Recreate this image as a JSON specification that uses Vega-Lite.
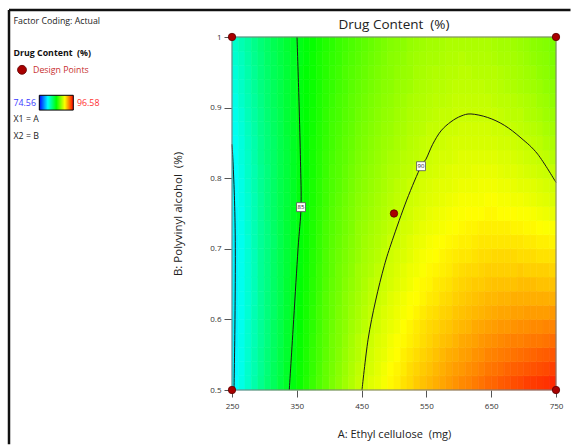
{
"$schema": "https://vega.github.io/schema/vega-lite/v6.json",
"background": "white",
"padding": {"left": 7, "top": 8, "right": 0, "bottom": 0},
"bounds": "flush",
"spacing": 73,
"config": {"font": "Open Sans", "view": {"stroke": null}},
"datasets": {
"grid": [
{"a":255,"b":0.51,"v":80.0},{"a":255,"b":0.53,"v":79.9},{"a":255,"b":0.55,"v":79.9},{"a":255,"b":0.57,"v":79.8},{"a":255,"b":0.59,"v":79.8},{"a":255,"b":0.61,"v":79.8},{"a":255,"b":0.63,"v":79.8},{"a":255,"b":0.65,"v":79.8},{"a":255,"b":0.67,"v":79.8},{"a":255,"b":0.69,"v":79.8},{"a":255,"b":0.71,"v":79.8},{"a":255,"b":0.73,"v":79.9},{"a":255,"b":0.75,"v":79.9},{"a":255,"b":0.77,"v":80.0},{"a":255,"b":0.79,"v":80.0},{"a":255,"b":0.81,"v":80.1},{"a":255,"b":0.83,"v":80.2},{"a":255,"b":0.85,"v":80.3},{"a":255,"b":0.87,"v":80.4},{"a":255,"b":0.89,"v":80.5},{"a":255,"b":0.91,"v":80.6},{"a":255,"b":0.93,"v":80.8},{"a":255,"b":0.95,"v":80.9},{"a":255,"b":0.97,"v":81.1},{"a":255,"b":0.99,"v":81.2},
{"a":265,"b":0.51,"v":80.6},{"a":265,"b":0.53,"v":80.5},{"a":265,"b":0.55,"v":80.5},{"a":265,"b":0.57,"v":80.5},{"a":265,"b":0.59,"v":80.4},{"a":265,"b":0.61,"v":80.4},{"a":265,"b":0.63,"v":80.4},{"a":265,"b":0.65,"v":80.4},{"a":265,"b":0.67,"v":80.4},{"a":265,"b":0.69,"v":80.4},{"a":265,"b":0.71,"v":80.4},{"a":265,"b":0.73,"v":80.5},{"a":265,"b":0.75,"v":80.5},{"a":265,"b":0.77,"v":80.6},{"a":265,"b":0.79,"v":80.6},{"a":265,"b":0.81,"v":80.7},{"a":265,"b":0.83,"v":80.8},{"a":265,"b":0.85,"v":80.8},{"a":265,"b":0.87,"v":80.9},{"a":265,"b":0.89,"v":81.0},{"a":265,"b":0.91,"v":81.2},{"a":265,"b":0.93,"v":81.3},{"a":265,"b":0.95,"v":81.4},{"a":265,"b":0.97,"v":81.5},{"a":265,"b":0.99,"v":81.7},
{"a":275,"b":0.51,"v":81.2},{"a":275,"b":0.53,"v":81.2},{"a":275,"b":0.55,"v":81.1},{"a":275,"b":0.57,"v":81.1},{"a":275,"b":0.59,"v":81.1},{"a":275,"b":0.61,"v":81.0},{"a":275,"b":0.63,"v":81.0},{"a":275,"b":0.65,"v":81.0},{"a":275,"b":0.67,"v":81.0},{"a":275,"b":0.69,"v":81.0},{"a":275,"b":0.71,"v":81.0},{"a":275,"b":0.73,"v":81.1},{"a":275,"b":0.75,"v":81.1},{"a":275,"b":0.77,"v":81.1},{"a":275,"b":0.79,"v":81.2},{"a":275,"b":0.81,"v":81.3},{"a":275,"b":0.83,"v":81.3},{"a":275,"b":0.85,"v":81.4},{"a":275,"b":0.87,"v":81.5},{"a":275,"b":0.89,"v":81.6},{"a":275,"b":0.91,"v":81.7},{"a":275,"b":0.93,"v":81.8},{"a":275,"b":0.95,"v":81.9},{"a":275,"b":0.97,"v":82.0},{"a":275,"b":0.99,"v":82.1},
{"a":285,"b":0.51,"v":81.9},{"a":285,"b":0.53,"v":81.8},{"a":285,"b":0.55,"v":81.8},{"a":285,"b":0.57,"v":81.7},{"a":285,"b":0.59,"v":81.7},{"a":285,"b":0.61,"v":81.7},{"a":285,"b":0.63,"v":81.6},{"a":285,"b":0.65,"v":81.6},{"a":285,"b":0.67,"v":81.6},{"a":285,"b":0.69,"v":81.6},{"a":285,"b":0.71,"v":81.7},{"a":285,"b":0.73,"v":81.7},{"a":285,"b":0.75,"v":81.7},{"a":285,"b":0.77,"v":81.7},{"a":285,"b":0.79,"v":81.8},{"a":285,"b":0.81,"v":81.8},{"a":285,"b":0.83,"v":81.9},{"a":285,"b":0.85,"v":81.9},{"a":285,"b":0.87,"v":82.0},{"a":285,"b":0.89,"v":82.1},{"a":285,"b":0.91,"v":82.2},{"a":285,"b":0.93,"v":82.3},{"a":285,"b":0.95,"v":82.4},{"a":285,"b":0.97,"v":82.5},{"a":285,"b":0.99,"v":82.6},
{"a":295,"b":0.51,"v":82.5},{"a":295,"b":0.53,"v":82.4},{"a":295,"b":0.55,"v":82.4},{"a":295,"b":0.57,"v":82.3},{"a":295,"b":0.59,"v":82.3},{"a":295,"b":0.61,"v":82.3},{"a":295,"b":0.63,"v":82.3},{"a":295,"b":0.65,"v":82.3},{"a":295,"b":0.67,"v":82.3},{"a":295,"b":0.69,"v":82.3},{"a":295,"b":0.71,"v":82.3},{"a":295,"b":0.73,"v":82.3},{"a":295,"b":0.75,"v":82.3},{"a":295,"b":0.77,"v":82.3},{"a":295,"b":0.79,"v":82.4},{"a":295,"b":0.81,"v":82.4},{"a":295,"b":0.83,"v":82.5},{"a":295,"b":0.85,"v":82.5},{"a":295,"b":0.87,"v":82.6},{"a":295,"b":0.89,"v":82.6},{"a":295,"b":0.91,"v":82.7},{"a":295,"b":0.93,"v":82.8},{"a":295,"b":0.95,"v":82.9},{"a":295,"b":0.97,"v":82.9},{"a":295,"b":0.99,"v":83.0},
{"a":305,"b":0.51,"v":83.1},{"a":305,"b":0.53,"v":83.0},{"a":305,"b":0.55,"v":83.0},{"a":305,"b":0.57,"v":82.9},{"a":305,"b":0.59,"v":82.9},{"a":305,"b":0.61,"v":82.9},{"a":305,"b":0.63,"v":82.9},{"a":305,"b":0.65,"v":82.8},{"a":305,"b":0.67,"v":82.8},{"a":305,"b":0.69,"v":82.8},{"a":305,"b":0.71,"v":82.8},{"a":305,"b":0.73,"v":82.8},{"a":305,"b":0.75,"v":82.9},{"a":305,"b":0.77,"v":82.9},{"a":305,"b":0.79,"v":82.9},{"a":305,"b":0.81,"v":82.9},{"a":305,"b":0.83,"v":83.0},{"a":305,"b":0.85,"v":83.0},{"a":305,"b":0.87,"v":83.0},{"a":305,"b":0.89,"v":83.1},{"a":305,"b":0.91,"v":83.2},{"a":305,"b":0.93,"v":83.2},{"a":305,"b":0.95,"v":83.3},{"a":305,"b":0.97,"v":83.4},{"a":305,"b":0.99,"v":83.4},
{"a":315,"b":0.51,"v":83.6},{"a":315,"b":0.53,"v":83.6},{"a":315,"b":0.55,"v":83.5},{"a":315,"b":0.57,"v":83.5},{"a":315,"b":0.59,"v":83.5},{"a":315,"b":0.61,"v":83.4},{"a":315,"b":0.63,"v":83.4},{"a":315,"b":0.65,"v":83.4},{"a":315,"b":0.67,"v":83.4},{"a":315,"b":0.69,"v":83.4},{"a":315,"b":0.71,"v":83.3},{"a":315,"b":0.73,"v":83.4},{"a":315,"b":0.75,"v":83.4},{"a":315,"b":0.77,"v":83.4},{"a":315,"b":0.79,"v":83.4},{"a":315,"b":0.81,"v":83.4},{"a":315,"b":0.83,"v":83.4},{"a":315,"b":0.85,"v":83.4},{"a":315,"b":0.87,"v":83.5},{"a":315,"b":0.89,"v":83.5},{"a":315,"b":0.91,"v":83.6},{"a":315,"b":0.93,"v":83.6},{"a":315,"b":0.95,"v":83.7},{"a":315,"b":0.97,"v":83.7},{"a":315,"b":0.99,"v":83.8},
{"a":325,"b":0.51,"v":84.2},{"a":325,"b":0.53,"v":84.1},{"a":325,"b":0.55,"v":84.1},{"a":325,"b":0.57,"v":84.0},{"a":325,"b":0.59,"v":84.0},{"a":325,"b":0.61,"v":84.0},{"a":325,"b":0.63,"v":83.9},{"a":325,"b":0.65,"v":83.9},{"a":325,"b":0.67,"v":83.9},{"a":325,"b":0.69,"v":83.9},{"a":325,"b":0.71,"v":83.9},{"a":325,"b":0.73,"v":83.9},{"a":325,"b":0.75,"v":83.9},{"a":325,"b":0.77,"v":83.9},{"a":325,"b":0.79,"v":83.9},{"a":325,"b":0.81,"v":83.9},{"a":325,"b":0.83,"v":83.9},{"a":325,"b":0.85,"v":83.9},{"a":325,"b":0.87,"v":83.9},{"a":325,"b":0.89,"v":83.9},{"a":325,"b":0.91,"v":84.0},{"a":325,"b":0.93,"v":84.0},{"a":325,"b":0.95,"v":84.0},{"a":325,"b":0.97,"v":84.1},{"a":325,"b":0.99,"v":84.1},
{"a":335,"b":0.51,"v":84.7},{"a":335,"b":0.53,"v":84.7},{"a":335,"b":0.55,"v":84.6},{"a":335,"b":0.57,"v":84.6},{"a":335,"b":0.59,"v":84.6},{"a":335,"b":0.61,"v":84.5},{"a":335,"b":0.63,"v":84.5},{"a":335,"b":0.65,"v":84.5},{"a":335,"b":0.67,"v":84.4},{"a":335,"b":0.69,"v":84.4},{"a":335,"b":0.71,"v":84.4},{"a":335,"b":0.73,"v":84.4},{"a":335,"b":0.75,"v":84.4},{"a":335,"b":0.77,"v":84.3},{"a":335,"b":0.79,"v":84.3},{"a":335,"b":0.81,"v":84.3},{"a":335,"b":0.83,"v":84.3},{"a":335,"b":0.85,"v":84.3},{"a":335,"b":0.87,"v":84.4},{"a":335,"b":0.89,"v":84.4},{"a":335,"b":0.91,"v":84.4},{"a":335,"b":0.93,"v":84.4},{"a":335,"b":0.95,"v":84.4},{"a":335,"b":0.97,"v":84.4},{"a":335,"b":0.99,"v":84.5},
{"a":345,"b":0.51,"v":85.3},{"a":345,"b":0.53,"v":85.2},{"a":345,"b":0.55,"v":85.2},{"a":345,"b":0.57,"v":85.1},{"a":345,"b":0.59,"v":85.1},{"a":345,"b":0.61,"v":85.1},{"a":345,"b":0.63,"v":85.0},{"a":345,"b":0.65,"v":85.0},{"a":345,"b":0.67,"v":85.0},{"a":345,"b":0.69,"v":84.9},{"a":345,"b":0.71,"v":84.9},{"a":345,"b":0.73,"v":84.9},{"a":345,"b":0.75,"v":84.9},{"a":345,"b":0.77,"v":84.8},{"a":345,"b":0.79,"v":84.8},{"a":345,"b":0.81,"v":84.8},{"a":345,"b":0.83,"v":84.8},{"a":345,"b":0.85,"v":84.8},{"a":345,"b":0.87,"v":84.8},{"a":345,"b":0.89,"v":84.8},{"a":345,"b":0.91,"v":84.8},{"a":345,"b":0.93,"v":84.8},{"a":345,"b":0.95,"v":84.8},{"a":345,"b":0.97,"v":84.8},{"a":345,"b":0.99,"v":84.8},
{"a":355,"b":0.51,"v":85.8},{"a":355,"b":0.53,"v":85.8},{"a":355,"b":0.55,"v":85.7},{"a":355,"b":0.57,"v":85.7},{"a":355,"b":0.59,"v":85.6},{"a":355,"b":0.61,"v":85.6},{"a":355,"b":0.63,"v":85.5},{"a":355,"b":0.65,"v":85.5},{"a":355,"b":0.67,"v":85.4},{"a":355,"b":0.69,"v":85.4},{"a":355,"b":0.71,"v":85.4},{"a":355,"b":0.73,"v":85.3},{"a":355,"b":0.75,"v":85.3},{"a":355,"b":0.77,"v":85.3},{"a":355,"b":0.79,"v":85.3},{"a":355,"b":0.81,"v":85.2},{"a":355,"b":0.83,"v":85.2},{"a":355,"b":0.85,"v":85.2},{"a":355,"b":0.87,"v":85.2},{"a":355,"b":0.89,"v":85.2},{"a":355,"b":0.91,"v":85.2},{"a":355,"b":0.93,"v":85.2},{"a":355,"b":0.95,"v":85.2},{"a":355,"b":0.97,"v":85.1},{"a":355,"b":0.99,"v":85.1},
{"a":365,"b":0.51,"v":86.3},{"a":365,"b":0.53,"v":86.2},{"a":365,"b":0.55,"v":86.2},{"a":365,"b":0.57,"v":86.1},{"a":365,"b":0.59,"v":86.1},{"a":365,"b":0.61,"v":86.0},{"a":365,"b":0.63,"v":86.0},{"a":365,"b":0.65,"v":85.9},{"a":365,"b":0.67,"v":85.9},{"a":365,"b":0.69,"v":85.8},{"a":365,"b":0.71,"v":85.8},{"a":365,"b":0.73,"v":85.8},{"a":365,"b":0.75,"v":85.7},{"a":365,"b":0.77,"v":85.7},{"a":365,"b":0.79,"v":85.7},{"a":365,"b":0.81,"v":85.6},{"a":365,"b":0.83,"v":85.6},{"a":365,"b":0.85,"v":85.6},{"a":365,"b":0.87,"v":85.6},{"a":365,"b":0.89,"v":85.5},{"a":365,"b":0.91,"v":85.5},{"a":365,"b":0.93,"v":85.5},{"a":365,"b":0.95,"v":85.5},{"a":365,"b":0.97,"v":85.4},{"a":365,"b":0.99,"v":85.4},
{"a":375,"b":0.51,"v":86.8},{"a":375,"b":0.53,"v":86.7},{"a":375,"b":0.55,"v":86.7},{"a":375,"b":0.57,"v":86.6},{"a":375,"b":0.59,"v":86.5},{"a":375,"b":0.61,"v":86.5},{"a":375,"b":0.63,"v":86.4},{"a":375,"b":0.65,"v":86.4},{"a":375,"b":0.67,"v":86.3},{"a":375,"b":0.69,"v":86.3},{"a":375,"b":0.71,"v":86.2},{"a":375,"b":0.73,"v":86.2},{"a":375,"b":0.75,"v":86.2},{"a":375,"b":0.77,"v":86.1},{"a":375,"b":0.79,"v":86.1},{"a":375,"b":0.81,"v":86.0},{"a":375,"b":0.83,"v":86.0},{"a":375,"b":0.85,"v":86.0},{"a":375,"b":0.87,"v":85.9},{"a":375,"b":0.89,"v":85.9},{"a":375,"b":0.91,"v":85.8},{"a":375,"b":0.93,"v":85.8},{"a":375,"b":0.95,"v":85.8},{"a":375,"b":0.97,"v":85.8},{"a":375,"b":0.99,"v":85.7},
{"a":385,"b":0.51,"v":87.3},{"a":385,"b":0.53,"v":87.2},{"a":385,"b":0.55,"v":87.1},{"a":385,"b":0.57,"v":87.1},{"a":385,"b":0.59,"v":87.0},{"a":385,"b":0.61,"v":87.0},{"a":385,"b":0.63,"v":86.9},{"a":385,"b":0.65,"v":86.8},{"a":385,"b":0.67,"v":86.8},{"a":385,"b":0.69,"v":86.7},{"a":385,"b":0.71,"v":86.7},{"a":385,"b":0.73,"v":86.6},{"a":385,"b":0.75,"v":86.6},{"a":385,"b":0.77,"v":86.5},{"a":385,"b":0.79,"v":86.5},{"a":385,"b":0.81,"v":86.4},{"a":385,"b":0.83,"v":86.4},{"a":385,"b":0.85,"v":86.3},{"a":385,"b":0.87,"v":86.3},{"a":385,"b":0.89,"v":86.2},{"a":385,"b":0.91,"v":86.2},{"a":385,"b":0.93,"v":86.1},{"a":385,"b":0.95,"v":86.1},{"a":385,"b":0.97,"v":86.1},{"a":385,"b":0.99,"v":86.0},
{"a":395,"b":0.51,"v":87.7},{"a":395,"b":0.53,"v":87.7},{"a":395,"b":0.55,"v":87.6},{"a":395,"b":0.57,"v":87.5},{"a":395,"b":0.59,"v":87.5},{"a":395,"b":0.61,"v":87.4},{"a":395,"b":0.63,"v":87.4},{"a":395,"b":0.65,"v":87.3},{"a":395,"b":0.67,"v":87.2},{"a":395,"b":0.69,"v":87.2},{"a":395,"b":0.71,"v":87.1},{"a":395,"b":0.73,"v":87.1},{"a":395,"b":0.75,"v":87.0},{"a":395,"b":0.77,"v":86.9},{"a":395,"b":0.79,"v":86.9},{"a":395,"b":0.81,"v":86.8},{"a":395,"b":0.83,"v":86.8},{"a":395,"b":0.85,"v":86.7},{"a":395,"b":0.87,"v":86.6},{"a":395,"b":0.89,"v":86.6},{"a":395,"b":0.91,"v":86.5},{"a":395,"b":0.93,"v":86.5},{"a":395,"b":0.95,"v":86.4},{"a":395,"b":0.97,"v":86.4},{"a":395,"b":0.99,"v":86.3},
{"a":405,"b":0.51,"v":88.2},{"a":405,"b":0.53,"v":88.1},{"a":405,"b":0.55,"v":88.0},{"a":405,"b":0.57,"v":88.0},{"a":405,"b":0.59,"v":87.9},{"a":405,"b":0.61,"v":87.8},{"a":405,"b":0.63,"v":87.8},{"a":405,"b":0.65,"v":87.7},{"a":405,"b":0.67,"v":87.6},{"a":405,"b":0.69,"v":87.6},{"a":405,"b":0.71,"v":87.5},{"a":405,"b":0.73,"v":87.4},{"a":405,"b":0.75,"v":87.4},{"a":405,"b":0.77,"v":87.3},{"a":405,"b":0.79,"v":87.2},{"a":405,"b":0.81,"v":87.2},{"a":405,"b":0.83,"v":87.1},{"a":405,"b":0.85,"v":87.0},{"a":405,"b":0.87,"v":87.0},{"a":405,"b":0.89,"v":86.9},{"a":405,"b":0.91,"v":86.8},{"a":405,"b":0.93,"v":86.7},{"a":405,"b":0.95,"v":86.7},{"a":405,"b":0.97,"v":86.6},{"a":405,"b":0.99,"v":86.5},
{"a":415,"b":0.51,"v":88.6},{"a":415,"b":0.53,"v":88.5},{"a":415,"b":0.55,"v":88.4},{"a":415,"b":0.57,"v":88.3},{"a":415,"b":0.59,"v":88.3},{"a":415,"b":0.61,"v":88.2},{"a":415,"b":0.63,"v":88.1},{"a":415,"b":0.65,"v":88.0},{"a":415,"b":0.67,"v":88.0},{"a":415,"b":0.69,"v":87.9},{"a":415,"b":0.71,"v":87.8},{"a":415,"b":0.73,"v":87.7},{"a":415,"b":0.75,"v":87.7},{"a":415,"b":0.77,"v":87.6},{"a":415,"b":0.79,"v":87.5},{"a":415,"b":0.81,"v":87.4},{"a":415,"b":0.83,"v":87.4},{"a":415,"b":0.85,"v":87.3},{"a":415,"b":0.87,"v":87.2},{"a":415,"b":0.89,"v":87.1},{"a":415,"b":0.91,"v":87.1},{"a":415,"b":0.93,"v":87.0},{"a":415,"b":0.95,"v":86.9},{"a":415,"b":0.97,"v":86.8},{"a":415,"b":0.99,"v":86.8},
{"a":425,"b":0.51,"v":89.0},{"a":425,"b":0.53,"v":88.9},{"a":425,"b":0.55,"v":88.8},{"a":425,"b":0.57,"v":88.7},{"a":425,"b":0.59,"v":88.6},{"a":425,"b":0.61,"v":88.5},{"a":425,"b":0.63,"v":88.5},{"a":425,"b":0.65,"v":88.4},{"a":425,"b":0.67,"v":88.3},{"a":425,"b":0.69,"v":88.2},{"a":425,"b":0.71,"v":88.1},{"a":425,"b":0.73,"v":88.0},{"a":425,"b":0.75,"v":88.0},{"a":425,"b":0.77,"v":87.9},{"a":425,"b":0.79,"v":87.8},{"a":425,"b":0.81,"v":87.7},{"a":425,"b":0.83,"v":87.6},{"a":425,"b":0.85,"v":87.6},{"a":425,"b":0.87,"v":87.5},{"a":425,"b":0.89,"v":87.4},{"a":425,"b":0.91,"v":87.3},{"a":425,"b":0.93,"v":87.2},{"a":425,"b":0.95,"v":87.2},{"a":425,"b":0.97,"v":87.1},{"a":425,"b":0.99,"v":87.0},
{"a":435,"b":0.51,"v":89.4},{"a":435,"b":0.53,"v":89.3},{"a":435,"b":0.55,"v":89.2},{"a":435,"b":0.57,"v":89.1},{"a":435,"b":0.59,"v":89.0},{"a":435,"b":0.61,"v":88.9},{"a":435,"b":0.63,"v":88.8},{"a":435,"b":0.65,"v":88.7},{"a":435,"b":0.67,"v":88.6},{"a":435,"b":0.69,"v":88.5},{"a":435,"b":0.71,"v":88.4},{"a":435,"b":0.73,"v":88.3},{"a":435,"b":0.75,"v":88.3},{"a":435,"b":0.77,"v":88.2},{"a":435,"b":0.79,"v":88.1},{"a":435,"b":0.81,"v":88.0},{"a":435,"b":0.83,"v":87.9},{"a":435,"b":0.85,"v":87.8},{"a":435,"b":0.87,"v":87.7},{"a":435,"b":0.89,"v":87.6},{"a":435,"b":0.91,"v":87.6},{"a":435,"b":0.93,"v":87.5},{"a":435,"b":0.95,"v":87.4},{"a":435,"b":0.97,"v":87.3},{"a":435,"b":0.99,"v":87.2},
{"a":445,"b":0.51,"v":89.8},{"a":445,"b":0.53,"v":89.7},{"a":445,"b":0.55,"v":89.5},{"a":445,"b":0.57,"v":89.5},{"a":445,"b":0.59,"v":89.3},{"a":445,"b":0.61,"v":89.2},{"a":445,"b":0.63,"v":89.1},{"a":445,"b":0.65,"v":89.0},{"a":445,"b":0.67,"v":89.0},{"a":445,"b":0.69,"v":88.8},{"a":445,"b":0.71,"v":88.7},{"a":445,"b":0.73,"v":88.7},{"a":445,"b":0.75,"v":88.6},{"a":445,"b":0.77,"v":88.5},{"a":445,"b":0.79,"v":88.4},{"a":445,"b":0.81,"v":88.3},{"a":445,"b":0.83,"v":88.2},{"a":445,"b":0.85,"v":88.1},{"a":445,"b":0.87,"v":88.0},{"a":445,"b":0.89,"v":87.9},{"a":445,"b":0.91,"v":87.8},{"a":445,"b":0.93,"v":87.7},{"a":445,"b":0.95,"v":87.6},{"a":445,"b":0.97,"v":87.5},{"a":445,"b":0.99,"v":87.4},
{"a":455,"b":0.51,"v":90.1},{"a":455,"b":0.53,"v":90.0},{"a":455,"b":0.55,"v":89.9},{"a":455,"b":0.57,"v":89.8},{"a":455,"b":0.59,"v":89.6},{"a":455,"b":0.61,"v":89.5},{"a":455,"b":0.63,"v":89.4},{"a":455,"b":0.65,"v":89.3},{"a":455,"b":0.67,"v":89.2},{"a":455,"b":0.69,"v":89.1},{"a":455,"b":0.71,"v":89.0},{"a":455,"b":0.73,"v":88.9},{"a":455,"b":0.75,"v":88.8},{"a":455,"b":0.77,"v":88.7},{"a":455,"b":0.79,"v":88.6},{"a":455,"b":0.81,"v":88.5},{"a":455,"b":0.83,"v":88.4},{"a":455,"b":0.85,"v":88.3},{"a":455,"b":0.87,"v":88.2},{"a":455,"b":0.89,"v":88.1},{"a":455,"b":0.91,"v":88.0},{"a":455,"b":0.93,"v":87.9},{"a":455,"b":0.95,"v":87.8},{"a":455,"b":0.97,"v":87.7},{"a":455,"b":0.99,"v":87.6},
{"a":465,"b":0.51,"v":90.4},{"a":465,"b":0.53,"v":90.2},{"a":465,"b":0.55,"v":90.1},{"a":465,"b":0.57,"v":90.0},{"a":465,"b":0.59,"v":89.9},{"a":465,"b":0.61,"v":89.8},{"a":465,"b":0.63,"v":89.7},{"a":465,"b":0.65,"v":89.6},{"a":465,"b":0.67,"v":89.4},{"a":465,"b":0.69,"v":89.3},{"a":465,"b":0.71,"v":89.2},{"a":465,"b":0.73,"v":89.1},{"a":465,"b":0.75,"v":89.0},{"a":465,"b":0.77,"v":88.9},{"a":465,"b":0.79,"v":88.8},{"a":465,"b":0.81,"v":88.7},{"a":465,"b":0.83,"v":88.6},{"a":465,"b":0.85,"v":88.5},{"a":465,"b":0.87,"v":88.4},{"a":465,"b":0.89,"v":88.3},{"a":465,"b":0.91,"v":88.2},{"a":465,"b":0.93,"v":88.1},{"a":465,"b":0.95,"v":88.0},{"a":465,"b":0.97,"v":87.9},{"a":465,"b":0.99,"v":87.8},
{"a":475,"b":0.51,"v":90.6},{"a":475,"b":0.53,"v":90.5},{"a":475,"b":0.55,"v":90.4},{"a":475,"b":0.57,"v":90.3},{"a":475,"b":0.59,"v":90.1},{"a":475,"b":0.61,"v":90.0},{"a":475,"b":0.63,"v":89.9},{"a":475,"b":0.65,"v":89.8},{"a":475,"b":0.67,"v":89.7},{"a":475,"b":0.69,"v":89.5},{"a":475,"b":0.71,"v":89.4},{"a":475,"b":0.73,"v":89.3},{"a":475,"b":0.75,"v":89.2},{"a":475,"b":0.77,"v":89.1},{"a":475,"b":0.79,"v":89.0},{"a":475,"b":0.81,"v":88.9},{"a":475,"b":0.83,"v":88.8},{"a":475,"b":0.85,"v":88.7},{"a":475,"b":0.87,"v":88.6},{"a":475,"b":0.89,"v":88.5},{"a":475,"b":0.91,"v":88.4},{"a":475,"b":0.93,"v":88.3},{"a":475,"b":0.95,"v":88.2},{"a":475,"b":0.97,"v":88.1},{"a":475,"b":0.99,"v":88.0},
{"a":485,"b":0.51,"v":90.9},{"a":485,"b":0.53,"v":90.8},{"a":485,"b":0.55,"v":90.6},{"a":485,"b":0.57,"v":90.5},{"a":485,"b":0.59,"v":90.4},{"a":485,"b":0.61,"v":90.3},{"a":485,"b":0.63,"v":90.1},{"a":485,"b":0.65,"v":90.0},{"a":485,"b":0.67,"v":89.9},{"a":485,"b":0.69,"v":89.8},{"a":485,"b":0.71,"v":89.6},{"a":485,"b":0.73,"v":89.5},{"a":485,"b":0.75,"v":89.4},{"a":485,"b":0.77,"v":89.3},{"a":485,"b":0.79,"v":89.2},{"a":485,"b":0.81,"v":89.1},{"a":485,"b":0.83,"v":89.0},{"a":485,"b":0.85,"v":88.9},{"a":485,"b":0.87,"v":88.8},{"a":485,"b":0.89,"v":88.7},{"a":485,"b":0.91,"v":88.6},{"a":485,"b":0.93,"v":88.5},{"a":485,"b":0.95,"v":88.4},{"a":485,"b":0.97,"v":88.3},{"a":485,"b":0.99,"v":88.2},
{"a":495,"b":0.51,"v":91.2},{"a":495,"b":0.53,"v":91.1},{"a":495,"b":0.55,"v":90.9},{"a":495,"b":0.57,"v":90.8},{"a":495,"b":0.59,"v":90.6},{"a":495,"b":0.61,"v":90.5},{"a":495,"b":0.63,"v":90.4},{"a":495,"b":0.65,"v":90.2},{"a":495,"b":0.67,"v":90.1},{"a":495,"b":0.69,"v":90.0},{"a":495,"b":0.71,"v":89.9},{"a":495,"b":0.73,"v":89.7},{"a":495,"b":0.75,"v":89.6},{"a":495,"b":0.77,"v":89.5},{"a":495,"b":0.79,"v":89.4},{"a":495,"b":0.81,"v":89.3},{"a":495,"b":0.83,"v":89.2},{"a":495,"b":0.85,"v":89.0},{"a":495,"b":0.87,"v":88.9},{"a":495,"b":0.89,"v":88.8},{"a":495,"b":0.91,"v":88.7},{"a":495,"b":0.93,"v":88.6},{"a":495,"b":0.95,"v":88.5},{"a":495,"b":0.97,"v":88.5},{"a":495,"b":0.99,"v":88.4},
{"a":505,"b":0.51,"v":91.4},{"a":505,"b":0.53,"v":91.3},{"a":505,"b":0.55,"v":91.1},{"a":505,"b":0.57,"v":91.0},{"a":505,"b":0.59,"v":90.8},{"a":505,"b":0.61,"v":90.7},{"a":505,"b":0.63,"v":90.6},{"a":505,"b":0.65,"v":90.4},{"a":505,"b":0.67,"v":90.3},{"a":505,"b":0.69,"v":90.2},{"a":505,"b":0.71,"v":90.0},{"a":505,"b":0.73,"v":89.9},{"a":505,"b":0.75,"v":89.8},{"a":505,"b":0.77,"v":89.7},{"a":505,"b":0.79,"v":89.6},{"a":505,"b":0.81,"v":89.4},{"a":505,"b":0.83,"v":89.3},{"a":505,"b":0.85,"v":89.2},{"a":505,"b":0.87,"v":89.1},{"a":505,"b":0.89,"v":89.0},{"a":505,"b":0.91,"v":88.9},{"a":505,"b":0.93,"v":88.8},{"a":505,"b":0.95,"v":88.7},{"a":505,"b":0.97,"v":88.6},{"a":505,"b":0.99,"v":88.5},
{"a":515,"b":0.51,"v":91.7},{"a":515,"b":0.53,"v":91.5},{"a":515,"b":0.55,"v":91.4},{"a":515,"b":0.57,"v":91.2},{"a":515,"b":0.59,"v":91.1},{"a":515,"b":0.61,"v":90.9},{"a":515,"b":0.63,"v":90.8},{"a":515,"b":0.65,"v":90.6},{"a":515,"b":0.67,"v":90.5},{"a":515,"b":0.69,"v":90.3},{"a":515,"b":0.71,"v":90.2},{"a":515,"b":0.73,"v":90.1},{"a":515,"b":0.75,"v":89.9},{"a":515,"b":0.77,"v":89.8},{"a":515,"b":0.79,"v":89.7},{"a":515,"b":0.81,"v":89.6},{"a":515,"b":0.83,"v":89.5},{"a":515,"b":0.85,"v":89.3},{"a":515,"b":0.87,"v":89.2},{"a":515,"b":0.89,"v":89.1},{"a":515,"b":0.91,"v":89.0},{"a":515,"b":0.93,"v":88.9},{"a":515,"b":0.95,"v":88.8},{"a":515,"b":0.97,"v":88.7},{"a":515,"b":0.99,"v":88.6},
{"a":525,"b":0.51,"v":91.9},{"a":525,"b":0.53,"v":91.8},{"a":525,"b":0.55,"v":91.6},{"a":525,"b":0.57,"v":91.4},{"a":525,"b":0.59,"v":91.3},{"a":525,"b":0.61,"v":91.1},{"a":525,"b":0.63,"v":91.0},{"a":525,"b":0.65,"v":90.8},{"a":525,"b":0.67,"v":90.7},{"a":525,"b":0.69,"v":90.5},{"a":525,"b":0.71,"v":90.4},{"a":525,"b":0.73,"v":90.2},{"a":525,"b":0.75,"v":90.1},{"a":525,"b":0.77,"v":90.0},{"a":525,"b":0.79,"v":89.9},{"a":525,"b":0.81,"v":89.7},{"a":525,"b":0.83,"v":89.6},{"a":525,"b":0.85,"v":89.5},{"a":525,"b":0.87,"v":89.4},{"a":525,"b":0.89,"v":89.3},{"a":525,"b":0.91,"v":89.2},{"a":525,"b":0.93,"v":89.0},{"a":525,"b":0.95,"v":88.9},{"a":525,"b":0.97,"v":88.9},{"a":525,"b":0.99,"v":88.8},
{"a":535,"b":0.51,"v":92.2},{"a":535,"b":0.53,"v":92.0},{"a":535,"b":0.55,"v":91.8},{"a":535,"b":0.57,"v":91.6},{"a":535,"b":0.59,"v":91.5},{"a":535,"b":0.61,"v":91.3},{"a":535,"b":0.63,"v":91.1},{"a":535,"b":0.65,"v":91.0},{"a":535,"b":0.67,"v":90.8},{"a":535,"b":0.69,"v":90.7},{"a":535,"b":0.71,"v":90.6},{"a":535,"b":0.73,"v":90.4},{"a":535,"b":0.75,"v":90.3},{"a":535,"b":0.77,"v":90.1},{"a":535,"b":0.79,"v":90.0},{"a":535,"b":0.81,"v":89.9},{"a":535,"b":0.83,"v":89.7},{"a":535,"b":0.85,"v":89.6},{"a":535,"b":0.87,"v":89.5},{"a":535,"b":0.89,"v":89.4},{"a":535,"b":0.91,"v":89.3},{"a":535,"b":0.93,"v":89.2},{"a":535,"b":0.95,"v":89.1},{"a":535,"b":0.97,"v":89.0},{"a":535,"b":0.99,"v":88.9},
{"a":545,"b":0.51,"v":92.4},{"a":545,"b":0.53,"v":92.2},{"a":545,"b":0.55,"v":92.0},{"a":545,"b":0.57,"v":91.8},{"a":545,"b":0.59,"v":91.7},{"a":545,"b":0.61,"v":91.5},{"a":545,"b":0.63,"v":91.3},{"a":545,"b":0.65,"v":91.2},{"a":545,"b":0.67,"v":91.0},{"a":545,"b":0.69,"v":90.9},{"a":545,"b":0.71,"v":90.7},{"a":545,"b":0.73,"v":90.6},{"a":545,"b":0.75,"v":90.4},{"a":545,"b":0.77,"v":90.3},{"a":545,"b":0.79,"v":90.2},{"a":545,"b":0.81,"v":90.0},{"a":545,"b":0.83,"v":89.9},{"a":545,"b":0.85,"v":89.8},{"a":545,"b":0.87,"v":89.6},{"a":545,"b":0.89,"v":89.5},{"a":545,"b":0.91,"v":89.4},{"a":545,"b":0.93,"v":89.3},{"a":545,"b":0.95,"v":89.2},{"a":545,"b":0.97,"v":89.1},{"a":545,"b":0.99,"v":89.0},
{"a":555,"b":0.51,"v":92.6},{"a":555,"b":0.53,"v":92.4},{"a":555,"b":0.55,"v":92.2},{"a":555,"b":0.57,"v":92.0},{"a":555,"b":0.59,"v":91.9},{"a":555,"b":0.61,"v":91.7},{"a":555,"b":0.63,"v":91.5},{"a":555,"b":0.65,"v":91.3},{"a":555,"b":0.67,"v":91.2},{"a":555,"b":0.69,"v":91.0},{"a":555,"b":0.71,"v":90.9},{"a":555,"b":0.73,"v":90.7},{"a":555,"b":0.75,"v":90.6},{"a":555,"b":0.77,"v":90.4},{"a":555,"b":0.79,"v":90.3},{"a":555,"b":0.81,"v":90.1},{"a":555,"b":0.83,"v":90.0},{"a":555,"b":0.85,"v":89.9},{"a":555,"b":0.87,"v":89.8},{"a":555,"b":0.89,"v":89.6},{"a":555,"b":0.91,"v":89.5},{"a":555,"b":0.93,"v":89.4},{"a":555,"b":0.95,"v":89.3},{"a":555,"b":0.97,"v":89.2},{"a":555,"b":0.99,"v":89.1},
{"a":565,"b":0.51,"v":92.8},{"a":565,"b":0.53,"v":92.6},{"a":565,"b":0.55,"v":92.4},{"a":565,"b":0.57,"v":92.2},{"a":565,"b":0.59,"v":92.0},{"a":565,"b":0.61,"v":91.8},{"a":565,"b":0.63,"v":91.6},{"a":565,"b":0.65,"v":91.5},{"a":565,"b":0.67,"v":91.3},{"a":565,"b":0.69,"v":91.1},{"a":565,"b":0.71,"v":91.0},{"a":565,"b":0.73,"v":90.8},{"a":565,"b":0.75,"v":90.7},{"a":565,"b":0.77,"v":90.5},{"a":565,"b":0.79,"v":90.4},{"a":565,"b":0.81,"v":90.2},{"a":565,"b":0.83,"v":90.1},{"a":565,"b":0.85,"v":89.9},{"a":565,"b":0.87,"v":89.8},{"a":565,"b":0.89,"v":89.7},{"a":565,"b":0.91,"v":89.6},{"a":565,"b":0.93,"v":89.5},{"a":565,"b":0.95,"v":89.4},{"a":565,"b":0.97,"v":89.2},{"a":565,"b":0.99,"v":89.1},
{"a":575,"b":0.51,"v":93.0},{"a":575,"b":0.53,"v":92.8},{"a":575,"b":0.55,"v":92.6},{"a":575,"b":0.57,"v":92.4},{"a":575,"b":0.59,"v":92.2},{"a":575,"b":0.61,"v":92.0},{"a":575,"b":0.63,"v":91.8},{"a":575,"b":0.65,"v":91.6},{"a":575,"b":0.67,"v":91.4},{"a":575,"b":0.69,"v":91.3},{"a":575,"b":0.71,"v":91.1},{"a":575,"b":0.73,"v":90.9},{"a":575,"b":0.75,"v":90.8},{"a":575,"b":0.77,"v":90.6},{"a":575,"b":0.79,"v":90.5},{"a":575,"b":0.81,"v":90.3},{"a":575,"b":0.83,"v":90.2},{"a":575,"b":0.85,"v":90.0},{"a":575,"b":0.87,"v":89.9},{"a":575,"b":0.89,"v":89.8},{"a":575,"b":0.91,"v":89.6},{"a":575,"b":0.93,"v":89.5},{"a":575,"b":0.95,"v":89.4},{"a":575,"b":0.97,"v":89.3},{"a":575,"b":0.99,"v":89.2},
{"a":585,"b":0.51,"v":93.2},{"a":585,"b":0.53,"v":93.0},{"a":585,"b":0.55,"v":92.8},{"a":585,"b":0.57,"v":92.5},{"a":585,"b":0.59,"v":92.3},{"a":585,"b":0.61,"v":92.1},{"a":585,"b":0.63,"v":91.9},{"a":585,"b":0.65,"v":91.7},{"a":585,"b":0.67,"v":91.5},{"a":585,"b":0.69,"v":91.4},{"a":585,"b":0.71,"v":91.2},{"a":585,"b":0.73,"v":91.0},{"a":585,"b":0.75,"v":90.9},{"a":585,"b":0.77,"v":90.7},{"a":585,"b":0.79,"v":90.5},{"a":585,"b":0.81,"v":90.4},{"a":585,"b":0.83,"v":90.2},{"a":585,"b":0.85,"v":90.1},{"a":585,"b":0.87,"v":90.0},{"a":585,"b":0.89,"v":89.8},{"a":585,"b":0.91,"v":89.7},{"a":585,"b":0.93,"v":89.6},{"a":585,"b":0.95,"v":89.5},{"a":585,"b":0.97,"v":89.4},{"a":585,"b":0.99,"v":89.3},
{"a":595,"b":0.51,"v":93.4},{"a":595,"b":0.53,"v":93.2},{"a":595,"b":0.55,"v":92.9},{"a":595,"b":0.57,"v":92.7},{"a":595,"b":0.59,"v":92.5},{"a":595,"b":0.61,"v":92.3},{"a":595,"b":0.63,"v":92.1},{"a":595,"b":0.65,"v":91.9},{"a":595,"b":0.67,"v":91.7},{"a":595,"b":0.69,"v":91.5},{"a":595,"b":0.71,"v":91.3},{"a":595,"b":0.73,"v":91.1},{"a":595,"b":0.75,"v":91.0},{"a":595,"b":0.77,"v":90.8},{"a":595,"b":0.79,"v":90.6},{"a":595,"b":0.81,"v":90.5},{"a":595,"b":0.83,"v":90.3},{"a":595,"b":0.85,"v":90.2},{"a":595,"b":0.87,"v":90.0},{"a":595,"b":0.89,"v":89.9},{"a":595,"b":0.91,"v":89.8},{"a":595,"b":0.93,"v":89.7},{"a":595,"b":0.95,"v":89.5},{"a":595,"b":0.97,"v":89.4},{"a":595,"b":0.99,"v":89.3},
{"a":605,"b":0.51,"v":93.6},{"a":605,"b":0.53,"v":93.3},{"a":605,"b":0.55,"v":93.1},{"a":605,"b":0.57,"v":92.9},{"a":605,"b":0.59,"v":92.6},{"a":605,"b":0.61,"v":92.4},{"a":605,"b":0.63,"v":92.2},{"a":605,"b":0.65,"v":92.0},{"a":605,"b":0.67,"v":91.8},{"a":605,"b":0.69,"v":91.6},{"a":605,"b":0.71,"v":91.4},{"a":605,"b":0.73,"v":91.2},{"a":605,"b":0.75,"v":91.0},{"a":605,"b":0.77,"v":90.9},{"a":605,"b":0.79,"v":90.7},{"a":605,"b":0.81,"v":90.5},{"a":605,"b":0.83,"v":90.4},{"a":605,"b":0.85,"v":90.2},{"a":605,"b":0.87,"v":90.1},{"a":605,"b":0.89,"v":89.9},{"a":605,"b":0.91,"v":89.8},{"a":605,"b":0.93,"v":89.7},{"a":605,"b":0.95,"v":89.6},{"a":605,"b":0.97,"v":89.5},{"a":605,"b":0.99,"v":89.3},
{"a":615,"b":0.51,"v":93.7},{"a":615,"b":0.53,"v":93.5},{"a":615,"b":0.55,"v":93.2},{"a":615,"b":0.57,"v":93.0},{"a":615,"b":0.59,"v":92.7},{"a":615,"b":0.61,"v":92.5},{"a":615,"b":0.63,"v":92.3},{"a":615,"b":0.65,"v":92.1},{"a":615,"b":0.67,"v":91.9},{"a":615,"b":0.69,"v":91.6},{"a":615,"b":0.71,"v":91.4},{"a":615,"b":0.73,"v":91.3},{"a":615,"b":0.75,"v":91.1},{"a":615,"b":0.77,"v":90.9},{"a":615,"b":0.79,"v":90.7},{"a":615,"b":0.81,"v":90.5},{"a":615,"b":0.83,"v":90.4},{"a":615,"b":0.85,"v":90.2},{"a":615,"b":0.87,"v":90.1},{"a":615,"b":0.89,"v":89.9},{"a":615,"b":0.91,"v":89.8},{"a":615,"b":0.93,"v":89.7},{"a":615,"b":0.95,"v":89.6},{"a":615,"b":0.97,"v":89.4},{"a":615,"b":0.99,"v":89.3},
{"a":625,"b":0.51,"v":93.9},{"a":625,"b":0.53,"v":93.6},{"a":625,"b":0.55,"v":93.4},{"a":625,"b":0.57,"v":93.1},{"a":625,"b":0.59,"v":92.9},{"a":625,"b":0.61,"v":92.6},{"a":625,"b":0.63,"v":92.4},{"a":625,"b":0.65,"v":92.2},{"a":625,"b":0.67,"v":91.9},{"a":625,"b":0.69,"v":91.7},{"a":625,"b":0.71,"v":91.5},{"a":625,"b":0.73,"v":91.3},{"a":625,"b":0.75,"v":91.1},{"a":625,"b":0.77,"v":90.9},{"a":625,"b":0.79,"v":90.7},{"a":625,"b":0.81,"v":90.6},{"a":625,"b":0.83,"v":90.4},{"a":625,"b":0.85,"v":90.2},{"a":625,"b":0.87,"v":90.1},{"a":625,"b":0.89,"v":89.9},{"a":625,"b":0.91,"v":89.8},{"a":625,"b":0.93,"v":89.7},{"a":625,"b":0.95,"v":89.5},{"a":625,"b":0.97,"v":89.4},{"a":625,"b":0.99,"v":89.3},
{"a":635,"b":0.51,"v":94.1},{"a":635,"b":0.53,"v":93.8},{"a":635,"b":0.55,"v":93.5},{"a":635,"b":0.57,"v":93.3},{"a":635,"b":0.59,"v":93.0},{"a":635,"b":0.61,"v":92.7},{"a":635,"b":0.63,"v":92.5},{"a":635,"b":0.65,"v":92.2},{"a":635,"b":0.67,"v":92.0},{"a":635,"b":0.69,"v":91.8},{"a":635,"b":0.71,"v":91.6},{"a":635,"b":0.73,"v":91.4},{"a":635,"b":0.75,"v":91.1},{"a":635,"b":0.77,"v":90.9},{"a":635,"b":0.79,"v":90.8},{"a":635,"b":0.81,"v":90.6},{"a":635,"b":0.83,"v":90.4},{"a":635,"b":0.85,"v":90.2},{"a":635,"b":0.87,"v":90.1},{"a":635,"b":0.89,"v":89.9},{"a":635,"b":0.91,"v":89.8},{"a":635,"b":0.93,"v":89.7},{"a":635,"b":0.95,"v":89.5},{"a":635,"b":0.97,"v":89.4},{"a":635,"b":0.99,"v":89.3},
{"a":645,"b":0.51,"v":94.3},{"a":645,"b":0.53,"v":94.0},{"a":645,"b":0.55,"v":93.7},{"a":645,"b":0.57,"v":93.4},{"a":645,"b":0.59,"v":93.1},{"a":645,"b":0.61,"v":92.8},{"a":645,"b":0.63,"v":92.6},{"a":645,"b":0.65,"v":92.3},{"a":645,"b":0.67,"v":92.1},{"a":645,"b":0.69,"v":91.8},{"a":645,"b":0.71,"v":91.6},{"a":645,"b":0.73,"v":91.4},{"a":645,"b":0.75,"v":91.2},{"a":645,"b":0.77,"v":91.0},{"a":645,"b":0.79,"v":90.8},{"a":645,"b":0.81,"v":90.6},{"a":645,"b":0.83,"v":90.4},{"a":645,"b":0.85,"v":90.2},{"a":645,"b":0.87,"v":90.1},{"a":645,"b":0.89,"v":89.9},{"a":645,"b":0.91,"v":89.8},{"a":645,"b":0.93,"v":89.6},{"a":645,"b":0.95,"v":89.5},{"a":645,"b":0.97,"v":89.4},{"a":645,"b":0.99,"v":89.3},
{"a":655,"b":0.51,"v":94.4},{"a":655,"b":0.53,"v":94.1},{"a":655,"b":0.55,"v":93.8},{"a":655,"b":0.57,"v":93.5},{"a":655,"b":0.59,"v":93.2},{"a":655,"b":0.61,"v":92.9},{"a":655,"b":0.63,"v":92.6},{"a":655,"b":0.65,"v":92.4},{"a":655,"b":0.67,"v":92.1},{"a":655,"b":0.69,"v":91.9},{"a":655,"b":0.71,"v":91.6},{"a":655,"b":0.73,"v":91.4},{"a":655,"b":0.75,"v":91.2},{"a":655,"b":0.77,"v":91.0},{"a":655,"b":0.79,"v":90.8},{"a":655,"b":0.81,"v":90.6},{"a":655,"b":0.83,"v":90.4},{"a":655,"b":0.85,"v":90.2},{"a":655,"b":0.87,"v":90.0},{"a":655,"b":0.89,"v":89.9},{"a":655,"b":0.91,"v":89.7},{"a":655,"b":0.93,"v":89.6},{"a":655,"b":0.95,"v":89.5},{"a":655,"b":0.97,"v":89.3},{"a":655,"b":0.99,"v":89.2},
{"a":665,"b":0.51,"v":94.6},{"a":665,"b":0.53,"v":94.2},{"a":665,"b":0.55,"v":93.9},{"a":665,"b":0.57,"v":93.6},{"a":665,"b":0.59,"v":93.3},{"a":665,"b":0.61,"v":93.0},{"a":665,"b":0.63,"v":92.7},{"a":665,"b":0.65,"v":92.4},{"a":665,"b":0.67,"v":92.1},{"a":665,"b":0.69,"v":91.9},{"a":665,"b":0.71,"v":91.6},{"a":665,"b":0.73,"v":91.4},{"a":665,"b":0.75,"v":91.1},{"a":665,"b":0.77,"v":90.9},{"a":665,"b":0.79,"v":90.7},{"a":665,"b":0.81,"v":90.5},{"a":665,"b":0.83,"v":90.3},{"a":665,"b":0.85,"v":90.1},{"a":665,"b":0.87,"v":90.0},{"a":665,"b":0.89,"v":89.8},{"a":665,"b":0.91,"v":89.6},{"a":665,"b":0.93,"v":89.5},{"a":665,"b":0.95,"v":89.4},{"a":665,"b":0.97,"v":89.2},{"a":665,"b":0.99,"v":89.1},
{"a":675,"b":0.51,"v":94.7},{"a":675,"b":0.53,"v":94.4},{"a":675,"b":0.55,"v":94.0},{"a":675,"b":0.57,"v":93.7},{"a":675,"b":0.59,"v":93.3},{"a":675,"b":0.61,"v":93.0},{"a":675,"b":0.63,"v":92.7},{"a":675,"b":0.65,"v":92.4},{"a":675,"b":0.67,"v":92.1},{"a":675,"b":0.69,"v":91.9},{"a":675,"b":0.71,"v":91.6},{"a":675,"b":0.73,"v":91.4},{"a":675,"b":0.75,"v":91.1},{"a":675,"b":0.77,"v":90.9},{"a":675,"b":0.79,"v":90.7},{"a":675,"b":0.81,"v":90.4},{"a":675,"b":0.83,"v":90.3},{"a":675,"b":0.85,"v":90.1},{"a":675,"b":0.87,"v":89.9},{"a":675,"b":0.89,"v":89.7},{"a":675,"b":0.91,"v":89.6},{"a":675,"b":0.93,"v":89.4},{"a":675,"b":0.95,"v":89.3},{"a":675,"b":0.97,"v":89.2},{"a":675,"b":0.99,"v":89.1},
{"a":685,"b":0.51,"v":94.9},{"a":685,"b":0.53,"v":94.5},{"a":685,"b":0.55,"v":94.1},{"a":685,"b":0.57,"v":93.8},{"a":685,"b":0.59,"v":93.4},{"a":685,"b":0.61,"v":93.1},{"a":685,"b":0.63,"v":92.8},{"a":685,"b":0.65,"v":92.4},{"a":685,"b":0.67,"v":92.1},{"a":685,"b":0.69,"v":91.9},{"a":685,"b":0.71,"v":91.6},{"a":685,"b":0.73,"v":91.3},{"a":685,"b":0.75,"v":91.1},{"a":685,"b":0.77,"v":90.8},{"a":685,"b":0.79,"v":90.6},{"a":685,"b":0.81,"v":90.4},{"a":685,"b":0.83,"v":90.2},{"a":685,"b":0.85,"v":90.0},{"a":685,"b":0.87,"v":89.8},{"a":685,"b":0.89,"v":89.6},{"a":685,"b":0.91,"v":89.5},{"a":685,"b":0.93,"v":89.3},{"a":685,"b":0.95,"v":89.2},{"a":685,"b":0.97,"v":89.1},{"a":685,"b":0.99,"v":89.0},
{"a":695,"b":0.51,"v":95.0},{"a":695,"b":0.53,"v":94.6},{"a":695,"b":0.55,"v":94.2},{"a":695,"b":0.57,"v":93.8},{"a":695,"b":0.59,"v":93.5},{"a":695,"b":0.61,"v":93.1},{"a":695,"b":0.63,"v":92.8},{"a":695,"b":0.65,"v":92.5},{"a":695,"b":0.67,"v":92.2},{"a":695,"b":0.69,"v":91.8},{"a":695,"b":0.71,"v":91.6},{"a":695,"b":0.73,"v":91.3},{"a":695,"b":0.75,"v":91.0},{"a":695,"b":0.77,"v":90.8},{"a":695,"b":0.79,"v":90.5},{"a":695,"b":0.81,"v":90.3},{"a":695,"b":0.83,"v":90.1},{"a":695,"b":0.85,"v":89.9},{"a":695,"b":0.87,"v":89.7},{"a":695,"b":0.89,"v":89.6},{"a":695,"b":0.91,"v":89.4},{"a":695,"b":0.93,"v":89.2},{"a":695,"b":0.95,"v":89.1},{"a":695,"b":0.97,"v":89.0},{"a":695,"b":0.99,"v":88.9},
{"a":705,"b":0.51,"v":95.2},{"a":705,"b":0.53,"v":94.7},{"a":705,"b":0.55,"v":94.3},{"a":705,"b":0.57,"v":93.9},{"a":705,"b":0.59,"v":93.5},{"a":705,"b":0.61,"v":93.2},{"a":705,"b":0.63,"v":92.8},{"a":705,"b":0.65,"v":92.5},{"a":705,"b":0.67,"v":92.1},{"a":705,"b":0.69,"v":91.8},{"a":705,"b":0.71,"v":91.5},{"a":705,"b":0.73,"v":91.2},{"a":705,"b":0.75,"v":91.0},{"a":705,"b":0.77,"v":90.7},{"a":705,"b":0.79,"v":90.5},{"a":705,"b":0.81,"v":90.2},{"a":705,"b":0.83,"v":90.0},{"a":705,"b":0.85,"v":89.8},{"a":705,"b":0.87,"v":89.6},{"a":705,"b":0.89,"v":89.4},{"a":705,"b":0.91,"v":89.3},{"a":705,"b":0.93,"v":89.1},{"a":705,"b":0.95,"v":89.0},{"a":705,"b":0.97,"v":88.9},{"a":705,"b":0.99,"v":88.8},
{"a":715,"b":0.51,"v":95.3},{"a":715,"b":0.53,"v":94.8},{"a":715,"b":0.55,"v":94.4},{"a":715,"b":0.57,"v":94.0},{"a":715,"b":0.59,"v":93.6},{"a":715,"b":0.61,"v":93.2},{"a":715,"b":0.63,"v":92.8},{"a":715,"b":0.65,"v":92.5},{"a":715,"b":0.67,"v":92.1},{"a":715,"b":0.69,"v":91.8},{"a":715,"b":0.71,"v":91.5},{"a":715,"b":0.73,"v":91.2},{"a":715,"b":0.75,"v":90.9},{"a":715,"b":0.77,"v":90.6},{"a":715,"b":0.79,"v":90.4},{"a":715,"b":0.81,"v":90.1},{"a":715,"b":0.83,"v":89.9},{"a":715,"b":0.85,"v":89.7},{"a":715,"b":0.87,"v":89.5},{"a":715,"b":0.89,"v":89.3},{"a":715,"b":0.91,"v":89.2},{"a":715,"b":0.93,"v":89.0},{"a":715,"b":0.95,"v":88.9},{"a":715,"b":0.97,"v":88.7},{"a":715,"b":0.99,"v":88.6},
{"a":725,"b":0.51,"v":95.4},{"a":725,"b":0.53,"v":94.9},{"a":725,"b":0.55,"v":94.5},{"a":725,"b":0.57,"v":94.0},{"a":725,"b":0.59,"v":93.6},{"a":725,"b":0.61,"v":93.2},{"a":725,"b":0.63,"v":92.8},{"a":725,"b":0.65,"v":92.4},{"a":725,"b":0.67,"v":92.1},{"a":725,"b":0.69,"v":91.7},{"a":725,"b":0.71,"v":91.4},{"a":725,"b":0.73,"v":91.1},{"a":725,"b":0.75,"v":90.8},{"a":725,"b":0.77,"v":90.5},{"a":725,"b":0.79,"v":90.3},{"a":725,"b":0.81,"v":90.0},{"a":725,"b":0.83,"v":89.8},{"a":725,"b":0.85,"v":89.6},{"a":725,"b":0.87,"v":89.4},{"a":725,"b":0.89,"v":89.2},{"a":725,"b":0.91,"v":89.0},{"a":725,"b":0.93,"v":88.9},{"a":725,"b":0.95,"v":88.7},{"a":725,"b":0.97,"v":88.6},{"a":725,"b":0.99,"v":88.5},
{"a":735,"b":0.51,"v":95.5},{"a":735,"b":0.53,"v":95.0},{"a":735,"b":0.55,"v":94.6},{"a":735,"b":0.57,"v":94.1},{"a":735,"b":0.59,"v":93.7},{"a":735,"b":0.61,"v":93.2},{"a":735,"b":0.63,"v":92.8},{"a":735,"b":0.65,"v":92.4},{"a":735,"b":0.67,"v":92.1},{"a":735,"b":0.69,"v":91.7},{"a":735,"b":0.71,"v":91.4},{"a":735,"b":0.73,"v":91.0},{"a":735,"b":0.75,"v":90.7},{"a":735,"b":0.77,"v":90.4},{"a":735,"b":0.79,"v":90.2},{"a":735,"b":0.81,"v":89.9},{"a":735,"b":0.83,"v":89.7},{"a":735,"b":0.85,"v":89.4},{"a":735,"b":0.87,"v":89.2},{"a":735,"b":0.89,"v":89.0},{"a":735,"b":0.91,"v":88.9},{"a":735,"b":0.93,"v":88.7},{"a":735,"b":0.95,"v":88.6},{"a":735,"b":0.97,"v":88.5},{"a":735,"b":0.99,"v":88.4},
{"a":745,"b":0.51,"v":95.7},{"a":745,"b":0.53,"v":95.2},{"a":745,"b":0.55,"v":94.7},{"a":745,"b":0.57,"v":94.2},{"a":745,"b":0.59,"v":93.7},{"a":745,"b":0.61,"v":93.3},{"a":745,"b":0.63,"v":92.8},{"a":745,"b":0.65,"v":92.4},{"a":745,"b":0.67,"v":92.0},{"a":745,"b":0.69,"v":91.7},{"a":745,"b":0.71,"v":91.3},{"a":745,"b":0.73,"v":91.0},{"a":745,"b":0.75,"v":90.6},{"a":745,"b":0.77,"v":90.3},{"a":745,"b":0.79,"v":90.1},{"a":745,"b":0.81,"v":89.8},{"a":745,"b":0.83,"v":89.5},{"a":745,"b":0.85,"v":89.3},{"a":745,"b":0.87,"v":89.1},{"a":745,"b":0.89,"v":88.9},{"a":745,"b":0.91,"v":88.7},{"a":745,"b":0.93,"v":88.6},{"a":745,"b":0.95,"v":88.4},{"a":745,"b":0.97,"v":88.3},{"a":745,"b":0.99,"v":88.2}
],
"contours": [
{"lvl":"80","i":0,"a":253.1,"b":0.5},{"lvl":"80","i":1,"a":254.6,"b":0.6},{"lvl":"80","i":2,"a":255.1,"b":0.7},{"lvl":"80","i":3,"a":253.9,"b":0.768},{"lvl":"80","i":4,"a":251.5,"b":0.824},{"lvl":"80","i":5,"a":250,"b":0.848},
{"lvl":"85","i":0,"a":338.4,"b":0.5},{"lvl":"85","i":1,"a":345.2,"b":0.6},{"lvl":"85","i":2,"a":351.9,"b":0.7},{"lvl":"85","i":3,"a":356.5,"b":0.759},{"lvl":"85","i":4,"a":355.7,"b":0.824},{"lvl":"85","i":5,"a":353.4,"b":0.909},{"lvl":"85","i":6,"a":350.3,"b":1.0},
{"lvl":"90","i":0,"a":450.6,"b":0.5},{"lvl":"90","i":1,"a":459.9,"b":0.571},{"lvl":"90","i":2,"a":471.5,"b":0.626},{"lvl":"90","i":3,"a":485.0,"b":0.676},{"lvl":"90","i":4,"a":497.4,"b":0.712},{"lvl":"90","i":5,"a":519.6,"b":0.769},{"lvl":"90","i":6,"a":541.7,"b":0.817},{"lvl":"90","i":7,"a":549.4,"b":0.827},{"lvl":"90","i":8,"a":559.7,"b":0.848},{"lvl":"90","i":9,"a":572.5,"b":0.867},{"lvl":"90","i":10,"a":588.0,"b":0.880},{"lvl":"90","i":11,"a":603.4,"b":0.888},{"lvl":"90","i":12,"a":618.8,"b":0.891},{"lvl":"90","i":13,"a":644.6,"b":0.886},{"lvl":"90","i":14,"a":670.2,"b":0.875},{"lvl":"90","i":15,"a":696.0,"b":0.857},{"lvl":"90","i":16,"a":721.8,"b":0.834},{"lvl":"90","i":17,"a":750,"b":0.794}
],
"labels": [{"lvl":"85","a":356.5,"b":0.759},{"lvl":"90","a":541.7,"b":0.817}],
"design": [{"a":250,"b":0.5},{"a":250,"b":1},{"a":750,"b":0.5},{"a":750,"b":1},{"a":500,"b":0.75}],
"legend": [
{"line":1,"label":"Factor Coding: Actual","kind":"plain"},
{"line":3,"label":"Drug Content \u00a0(%)","kind":"head"},
{"line":4,"label":"Design Points","kind":"series"},
{"line":6,"label":"74.56","kind":"min"},
{"line":6,"label":"96.58","kind":"max"},
{"line":7,"label":"X1 = A","kind":"plain"},
{"line":8,"label":"X2 = B","kind":"plain"}
]
},
"hconcat": [
{
"width": 150, "height": 353,
"layer": [
{"data": {"values": [{}]}, "mark": {"type": "rule", "color": "#111", "strokeWidth": 2.5, "clip": false},
 "encoding": {"x": {"datum": 0, "type": "quantitative", "scale": {"domain": [0, 150], "nice": false, "zero": false}, "axis": null},
  "x2": {"datum": 561.5},
  "y": {"datum": 0.35, "type": "quantitative", "scale": {"domain": [2, 23.5], "nice": false, "zero": false, "reverse": true}, "axis": null}}},
{"data": {"values": [{}]}, "mark": {"type": "rule", "color": "#111", "strokeWidth": 2.5, "clip": false},
 "encoding": {"x": {"datum": 0, "type": "quantitative"}, "y": {"datum": 0.35, "type": "quantitative"}, "y2": {"datum": 26.8}}},
{"data": {"name": "legend"}, "transform": [{"filter": "datum.kind == 'plain'"}],
 "mark": {"type": "text", "align": "left", "baseline": "middle", "fontSize": 8.8, "color": "#222", "clip": false},
 "encoding": {"x": {"datum": 4.5, "type": "quantitative"}, "y": {"field": "line", "type": "quantitative"}, "text": {"field": "label"}}},
{"data": {"name": "legend"}, "transform": [{"filter": "datum.kind == 'head'"}],
 "mark": {"type": "text", "align": "left", "baseline": "middle", "fontSize": 8.8, "fontWeight": "bold", "color": "#111", "clip": false},
 "encoding": {"x": {"datum": 4.5, "type": "quantitative"}, "y": {"field": "line", "type": "quantitative"}, "text": {"field": "label"}}},
{"data": {"name": "legend"}, "transform": [{"filter": "datum.kind == 'min'"}],
 "mark": {"type": "text", "align": "left", "baseline": "middle", "fontSize": 8.8, "color": "#3838ff", "clip": false},
 "encoding": {"x": {"datum": 4.5, "type": "quantitative"}, "y": {"field": "line", "type": "quantitative"}, "text": {"field": "label"}}},
{"data": {"name": "legend"}, "transform": [{"filter": "datum.kind == 'max'"}],
 "mark": {"type": "text", "align": "left", "baseline": "middle", "fontSize": 8.8, "color": "#ff3030", "clip": false},
 "encoding": {"x": {"datum": 68, "type": "quantitative"}, "y": {"field": "line", "type": "quantitative"}, "text": {"field": "label"}}},
{"data": {"name": "legend"}, "transform": [{"filter": "datum.kind == 'series'"}],
 "mark": {"type": "text", "align": "left", "baseline": "middle", "fontSize": 8.8, "color": "#c83030", "clip": false},
 "encoding": {"x": {"datum": 24, "type": "quantitative"}, "y": {"field": "line", "type": "quantitative"}, "text": {"field": "label"}}},
{"data": {"name": "legend"}, "transform": [{"filter": "datum.kind == 'series'"}],
 "mark": {"type": "point", "filled": true, "color": "#a80000", "stroke": "#600000", "strokeWidth": 0.8, "size": 80, "opacity": 1, "clip": false},
 "encoding": {"x": {"datum": 13, "type": "quantitative"}, "y": {"field": "line", "type": "quantitative"}}},
{"data": {"values": [{}]},
 "mark": {"type": "rect", "stroke": "#000", "strokeWidth": 1, "clip": false,
  "fill": {"gradient": "linear", "stops": [{"offset": 0, "color": "#0000ff"}, {"offset": 0.25, "color": "#00ffff"}, {"offset": 0.5, "color": "#00ff00"}, {"offset": 0.75, "color": "#ffff00"}, {"offset": 1, "color": "#ff0000"}]}},
 "encoding": {"x": {"datum": 30.3, "type": "quantitative"}, "x2": {"datum": 64.3}, "y": {"datum": 5.55, "type": "quantitative"}, "y2": {"datum": 6.45}}}
]
},
{
"width": 324, "height": 353,
"title": {"text": "Drug Content \u00a0(%)", "fontSize": 13.5, "fontWeight": "normal", "color": "#222", "offset": 0, "frame": "group", "anchor": "middle"},
"layer": [
{"data": {"name": "grid"}, "mark": {"type": "rect", "strokeWidth": 0.6},
 "encoding": {
  "x": {"field": "a", "type": "ordinal", "scale": {"paddingInner": 0, "paddingOuter": 0}, "axis": null},
  "y": {"field": "b", "type": "ordinal", "sort": "descending", "scale": {"paddingInner": 0, "paddingOuter": 0}, "axis": null},
  "color": {"field": "v", "type": "quantitative", "scale": {"domain": [74.56, 80.065, 85.57, 91.075, 96.58], "range": ["#0000ff", "#00ffff", "#00ff00", "#ffff00", "#ff0000"], "interpolate": "rgb"}, "legend": null},
  "stroke": {"field": "v", "type": "quantitative", "scale": {"domain": [74.56, 80.065, 85.57, 91.075, 96.58], "range": ["#0000ff", "#00ffff", "#00ff00", "#ffff00", "#ff0000"], "interpolate": "rgb"}, "legend": null}}},
{"layer": [
 {"data": {"name": "contours"}, "mark": {"type": "line", "color": "#1a1a1a", "strokeWidth": 1, "interpolate": "cardinal"},
  "encoding": {
   "x": {"field": "a", "type": "quantitative", "scale": {"domain": [250, 750], "nice": false, "zero": false},
    "axis": {"values": [250, 350, 450, 550, 650, 750], "title": "A: Ethyl cellulose \u00a0(mg)", "grid": false, "domain": false, "tickColor": "#555", "tickSize": 7, "labelFontSize": 8, "labelColor": "#333", "labelPadding": 5, "labelFlush": false, "labelOverlap": false, "titleFontSize": 11, "titleFontWeight": "normal", "titleColor": "#222", "titlePadding": 18}},
   "y": {"field": "b", "type": "quantitative", "scale": {"domain": [0.5, 1], "nice": false, "zero": false},
    "axis": {"values": [0.5, 0.6, 0.7, 0.8, 0.9, 1], "format": "~g", "title": "B: Polyvinyl alcohol \u00a0(%)", "grid": false, "domain": false, "tickColor": "#555", "tickSize": 8, "labelFontSize": 8, "labelColor": "#333", "labelPadding": 3, "labelFlush": false, "labelOverlap": false, "titleFontSize": 11.5, "titleFontWeight": "normal", "titleColor": "#222", "titlePadding": 26}},
   "detail": {"field": "lvl"},
   "order": {"field": "i", "type": "quantitative"}}},
 {"data": {"values": [{}]}, "mark": {"type": "rect", "fillOpacity": 0, "stroke": "#7a7a7a", "strokeWidth": 1},
  "encoding": {"x": {"datum": 250, "type": "quantitative"}, "x2": {"datum": 750}, "y": {"datum": 0.5, "type": "quantitative"}, "y2": {"datum": 1}}},
 {"data": {"name": "labels"}, "mark": {"type": "point", "shape": "square", "filled": true, "fill": "white", "stroke": "#555", "strokeWidth": 0.8, "size": 80, "opacity": 1},
  "encoding": {"x": {"field": "a", "type": "quantitative"}, "y": {"field": "b", "type": "quantitative"}}},
 {"data": {"name": "labels"}, "mark": {"type": "text", "fontSize": 6, "color": "#222", "baseline": "middle"},
  "encoding": {"x": {"field": "a", "type": "quantitative"}, "y": {"field": "b", "type": "quantitative"}, "text": {"field": "lvl"}}},
 {"data": {"name": "design"}, "mark": {"type": "point", "filled": true, "color": "#a80000", "stroke": "#5a0000", "strokeWidth": 0.8, "size": 55, "opacity": 1, "clip": false},
  "encoding": {"x": {"field": "a", "type": "quantitative"}, "y": {"field": "b", "type": "quantitative"}}}
]}
],
"resolve": {"scale": {"x": "independent", "y": "independent"}}
}
]
}
